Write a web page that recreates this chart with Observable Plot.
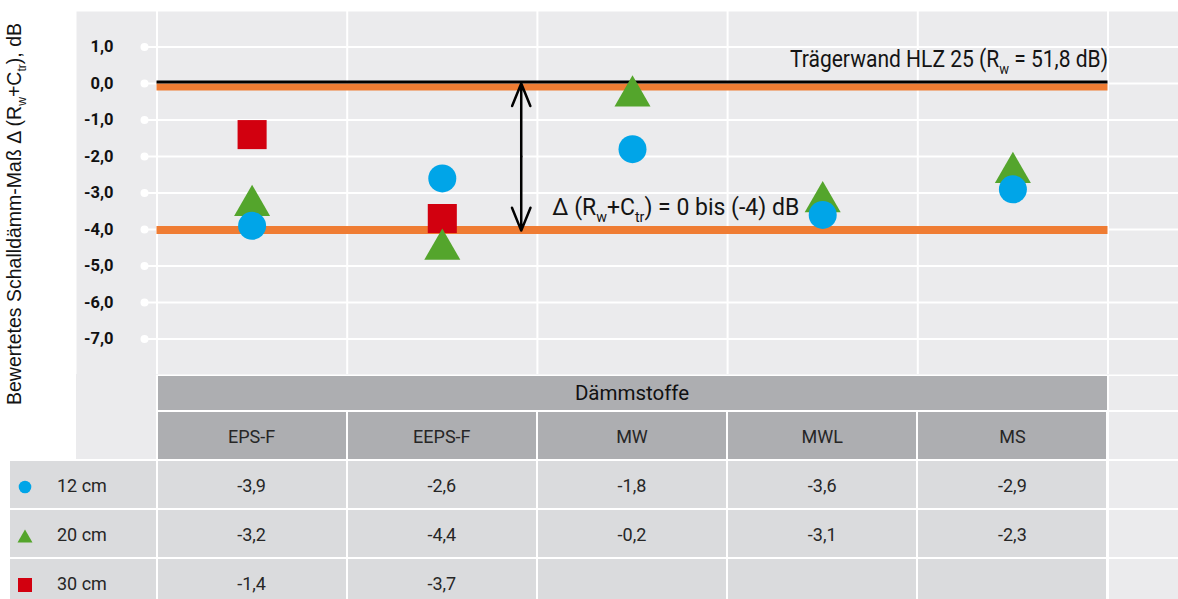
<!DOCTYPE html>
<html>
<head>
<meta charset="utf-8">
<script src="https://cdn.jsdelivr.net/npm/d3@7"></script>
<script src="https://cdn.jsdelivr.net/npm/@observablehq/plot@0.6"></script>
<style>
  html, body { margin: 0; padding: 0; background: #ffffff; }
  #wrap { position: relative; width: 1178px; height: 599px; overflow: hidden; font-family: Roboto, "Liberation Sans", sans-serif; }
  #wrap > svg { position: absolute; left: 0; top: 0; overflow: visible; z-index: 2; }
  .cell { position: absolute; box-sizing: border-box; display: flex; align-items: center; justify-content: center; color: #262626; font-size: 18px; }
</style>
</head>
<body>
<div id="wrap"></div>
<script>
// ---------------- data ----------------
const categories = ["EPS-F", "EEPS-F", "MW", "MWL", "MS"];
const seriesNames = ["12 cm", "20 cm", "30 cm"];
const values12 = [-3.9, -2.6, -1.8, -3.6, -2.9];
const values20 = [-3.2, -4.4, -0.2, -3.1, -2.3];
const values30 = [-1.4, -3.7, null, null, null];
const yTicks = [1, 0, -1, -2, -3, -4, -5, -6, -7];
const referenceValue = 0;
const rangeValues = [0, -4];
const groupTitle = "Dämmstoffe";
const refLabel = "Trägerwand HLZ 25 (R{w} = 51,8 dB)";
const rangeLabel = "Δ (R{w}+C{tr}) = 0 bis (-4) dB";
const yTitle = "Bewertetes Schalldämm-Maß Δ (R{w}+C{tr}), dB";

// ---------------- styles ----------------
const colors = { c12: "#00a5e8", c20: "#54a52c", c30: "#d2000f", orange: "#ef7c33", panel: "#ebebed", head: "#adaeb1", row: "#dadbdd" };
const W = 1178;
const x0 = 156.5, x1 = 1107.5; // band edges of the category axis
const step = (x1 - x0) / categories.length;

// triangle centred on its bounding box
const triangleSym = {
  draw(ctx, size) {
    const k = Math.sqrt(size / Math.PI);
    const hw = 1.286 * k, hh = 1.114 * k;
    ctx.moveTo(0, -hh); ctx.lineTo(hw, hh); ctx.lineTo(-hw, hh); ctx.closePath();
  }
};

const fmt = v => v == null ? "" : v.toFixed(1).replace(".", ",");
const pts = vals => vals.map((v, i) => ({ i, cat: categories[i], v })).filter(d => d.v != null);

const arrowX = 1.915;
const annFont = "'Liberation Sans Narrow', Roboto, sans-serif";

const plot = Plot.plot({
  width: W,
  height: 374,
  marginLeft: 76, marginTop: 11, marginRight: 0, marginBottom: 0,
  style: { fontFamily: "Roboto, 'Liberation Sans', sans-serif", fontSize: "16px", color: "#111", background: "transparent", overflow: "visible" },
  x: { type: "linear", domain: [0, categories.length], range: [x0, x1], axis: null },
  y: { type: "linear", domain: [-7, 1], range: [338.5, 46.5], axis: null },
  marks: [
    Plot.frame({ fill: colors.panel, stroke: "none" }),
    Plot.ruleY(yTicks, { stroke: "white", strokeWidth: 2, insetLeft: 68 }),
    Plot.ruleX(d3.range(categories.length + 1), { stroke: "white", strokeWidth: 2 }),
    Plot.dot(yTicks, { y: d => d, frameAnchor: "left", dx: 68, r: 4, fill: "white", stroke: "none" }),
    Plot.axisY(yTicks, { anchor: "left", tickSize: 0, tickPadding: 0, dx: 37, label: null,
      tickFormat: fmt, fontSize: 16.5, fontWeight: "bold", fill: "#111" }),
    // reference band lines
    Plot.ruleY([rangeValues[0]], { x1: 0, x2: categories.length, stroke: colors.orange, strokeWidth: 7, dy: 3.5 }),
    Plot.ruleY([rangeValues[1]], { x1: 0, x2: categories.length, stroke: colors.orange, strokeWidth: 8, dy: 0.5 }),
    Plot.ruleY([referenceValue], { x1: 0, x2: categories.length, stroke: "#000", strokeWidth: 3, dy: -1.5 }),
    // double arrow
    Plot.arrow([{ a: -2, b: rangeValues[0] }, { a: -2, b: rangeValues[1] - 0.03 }], {
      x1: arrowX, x2: arrowX, y1: "a", y2: "b", stroke: "#000", strokeWidth: 2.5, headLength: 17, headAngle: 44
    }),
    // annotations
    Plot.text([refLabel], { x: categories.length, y: referenceValue, text: d => d, textAnchor: "end", lineAnchor: "middle",
      dy: -24, fontSize: 23.5, fontFamily: annFont, fill: "#141414" }),
    Plot.text([rangeLabel], { x: arrowX, y: rangeValues[1], text: d => d, textAnchor: "start", lineAnchor: "middle",
      dx: 31, dy: -22, fontSize: 24, fontFamily: annFont, fill: "#141414" }),
    Plot.text([yTitle], { frameAnchor: "left", text: d => d, rotate: -90, textAnchor: "middle", lineAnchor: "middle",
      fontSize: 19.5, fontFamily: "'Liberation Sans', Arial, sans-serif", fill: "#141414" }),
    // data points
    Plot.dot(pts(values30), { x: d => d.i + 0.5, y: "v", symbol: "square", r: 16.4, fill: colors.c30, stroke: "none" }),
    Plot.dot(pts(values20), { x: d => d.i + 0.5, y: "v", symbol: triangleSym, r: 14, fill: colors.c20, stroke: "none" }),
    Plot.dot(pts(values12), { x: d => d.i + 0.5, y: "v", symbol: "circle", r: 14, fill: colors.c12, stroke: "none" })
  ]
});

// subscripts + widths
const textSpecs = new Map([
  [refLabel, { fs: 23.5, len: 318 }],
  [rangeLabel, { fs: 24, len: 247 }],
  [yTitle, { fs: 19.5, len: 382, transform: "translate(20.5,214) rotate(-90)" }]
]);
d3.select(plot).selectAll("text").each(function () {
  const raw = this.textContent;
  const spec = textSpecs.get(raw);
  if (!spec) return;
  const fs = spec.fs, sh = 0.28 * fs;
  this.textContent = "";
  const parts = raw.split(/(\{[^}]*\})/);
  let shifted = false;
  for (const p of parts) {
    if (!p) continue;
    const t = d3.select(this).append("tspan");
    if (p.startsWith("{")) {
      t.text(p.slice(1, -1)).attr("font-size", fs * 0.62);
      if (!shifted) t.attr("dy", sh);
      shifted = true;
    } else {
      t.text(p);
      if (shifted) { t.attr("dy", -sh); shifted = false; }
    }
  }
  this.setAttribute("textLength", spec.len);
  this.setAttribute("lengthAdjust", "spacingAndGlyphs");
  if (spec.transform) {
    this.setAttribute("transform", spec.transform);
    this.setAttribute("text-anchor", "middle");
    this.removeAttribute("x"); this.removeAttribute("y");
    if (this.parentNode) this.parentNode.removeAttribute("transform");
  }
});

const wrap = document.getElementById("wrap");
wrap.appendChild(plot);

// ---------------- table below the chart ----------------
function cell(left, top, right, bottom, bg, html, extra = {}) {
  const d = document.createElement("div");
  d.className = "cell";
  d.style.left = left + "px"; d.style.top = top + "px";
  d.style.width = (right - left) + "px"; d.style.height = (bottom - top) + "px";
  d.style.background = bg;
  if (html != null) d.innerHTML = html;
  Object.assign(d.style, extra);
  wrap.appendChild(d);
  return d;
}
// last row continues below the visible edge
const rows = [[376, 410], [412, 459], [461, 508], [510, 557], [559, 606]];
const edges = d3.range(categories.length + 1).map(i => x0 + step * i);

// left grey block under the axis
cell(76, 374, edges[0] - 1, rows[1][1], colors.panel, null);
// group title
cell(edges[0] + 1, rows[0][0], edges[categories.length] - 1, rows[0][1], colors.head, groupTitle,
  { fontSize: "20.5px", color: "#111" });
// extra column on the right
rows.forEach(r => cell(edges[categories.length] + 1, r[0], W, r[1], colors.panel, null));
// category names
categories.forEach((c, i) => cell(edges[i] + 1, rows[1][0], edges[i + 1] - 1, rows[1][1], colors.head, c, { paddingTop: "2px" }));
// series rows
const seriesVals = [values12, values20, values30];
const legendPaths = [
  `<circle cx="10" cy="10" r="6.3" fill="${colors.c12}"/>`,
  `<path d="M10,3.5L17.5,16.5L2.5,16.5Z" fill="${colors.c20}"/>`,
  `<rect x="3" y="3" width="14" height="14" fill="${colors.c30}"/>`
];
seriesNames.forEach((name, s) => {
  const r = rows[s + 2];
  const lc = cell(10, r[0], edges[0] - 1, r[1], colors.row, null, { justifyContent: "flex-start" });
  lc.innerHTML = `<svg width="20" height="20" style="position:absolute;left:4.5px;top:${(r[1]-r[0])/2 - 8}px">${legendPaths[s]}</svg>` +
    `<span style="position:absolute;left:47px;top:${(r[1]-r[0])/2 - 9}px;line-height:20px">${name}</span>`;
  seriesVals[s].forEach((v, i) => cell(edges[i] + 1, r[0], edges[i + 1] - 1, r[1], colors.row, fmt(v), { paddingTop: "2px" }));
});
</script>
</body>
</html>
